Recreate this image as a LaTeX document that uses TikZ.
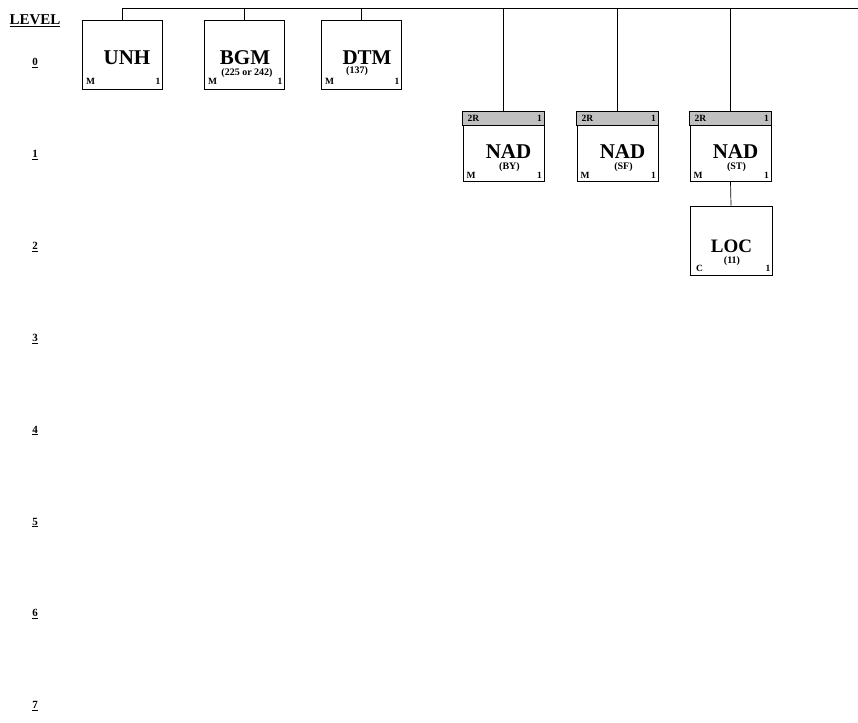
\documentclass[tikz,border=0pt]{standalone}
\usepackage{fontspec}
\setmainfont{Liberation Serif}
\definecolor{hdr}{RGB}{192,192,192}
\tikzset{
  box/.style={draw, line width=0.7pt, inner sep=0pt, minimum width=80pt, minimum height=69pt},
  ttl/.style={font=\fontsize{21}{21}\selectfont\bfseries, anchor=base, inner sep=0pt},
  subt/.style={font=\fontsize{10}{10}\selectfont\bfseries, anchor=base, inner sep=0pt},
  crnl/.style={font=\fontsize{9.5}{10}\selectfont\bfseries, anchor=base west, inner sep=0pt},
  crnr/.style={font=\fontsize{9.5}{10}\selectfont\bfseries, anchor=base east, inner sep=0pt},
  lvl/.style={font=\fontsize{11}{11}\selectfont\bfseries, anchor=base, inner sep=0pt},
  wire/.style={line width=0.7pt}
}
\begin{document}
\begin{tikzpicture}[x=1pt,y=-1pt]
\useasboundingbox (0,0) rectangle (858,722);
% level labels
\node[font=\fontsize{15}{15}\selectfont\bfseries, anchor=base, inner sep=0pt] (lev) at (35,25) {\underline{LEVEL}};
\foreach \k in {0,...,7} {
  \node[lvl] (l\k) at (35,{65.5+91.9*\k}) {\underline{\k}};
}
% bus
\coordinate (busL) at (122,8);
\coordinate (busR) at (858,8);
\draw[wire] (busL) -- (busR);
% level 0 boxes
\node[box] (unh) at (122,54.5) {};
\node[box] (bgm) at (244,54.5) {};
\node[box] (dtm) at (361,54.5) {};
% level 1 boxes
\node[box, minimum width=81pt] (nad1) at (503.5,146.5) {};
\node[box, minimum width=81pt] (nad2) at (617.5,146.5) {};
\node[box, minimum width=81pt] (nad3) at (730.5,146.5) {};
% level 2
\node[box, minimum width=82pt] (loc) at (731,240.5) {};
% headers
\foreach \n in {nad1,nad2,nad3} {
  \draw[wire, fill=hdr] (\n.north west) rectangle ([yshift=-14pt]\n.north east);
}
% connectors
\foreach \n in {unh,bgm,dtm,nad1,nad2,nad3} {
  \draw[wire] (\n.north) -- (\n.north |- busL);
}
\draw[wire] (nad3.south) -- (loc.north);
% texts level 0
\node[ttl] (tunh) at (127,65) {UNH};
\node[crnl] (munh) at (86,85) {M};
\node[crnr] (runh) at (160.5,85) {1};
\node[ttl] (tbgm) at (245,65) {BGM};
\node[subt] (sbgm) at (247,75.5) {(225 or 242)};
\node[crnl] (mbgm) at (208,85) {M};
\node[crnr] (rbgm) at (282.5,85) {1};
\node[ttl] (tdtm) at (367,65) {DTM};
\node[subt] (sdtm) at (357,74) {(137)};
\node[crnl] (mdtm) at (325,85) {M};
\node[crnr] (rdtm) at (399.5,85) {1};
% texts level 1
\foreach \n/\cx/\s in {1/503.5/BY, 2/617.5/SF, 3/730.5/ST} {
  \node[crnl] (h\n) at (\cx-36,122) {2R};
  \node[crnr] (hr\n) at (\cx+38.5,122) {1};
  \node[ttl] (tn\n) at (\cx+5,158) {NAD};
  \node[subt] (sn\n) at (\cx+6,169) {(\s)};
  \node[crnl] (mn\n) at (\cx-37,178.5) {M};
  \node[crnr] (rn\n) at (\cx+38.5,178.5) {1};
}
% level 2 text
\node[ttl, font=\fontsize{19}{19}\selectfont\bfseries] (tloc) at (731.5,252) {LOC};
\node[subt] (sloc) at (732,263) {(11)};
\node[crnl] (cloc) at (696,271.5) {C};
\node[crnr] (rloc) at (770.5,271.5) {1};
\end{tikzpicture}
\end{document}
